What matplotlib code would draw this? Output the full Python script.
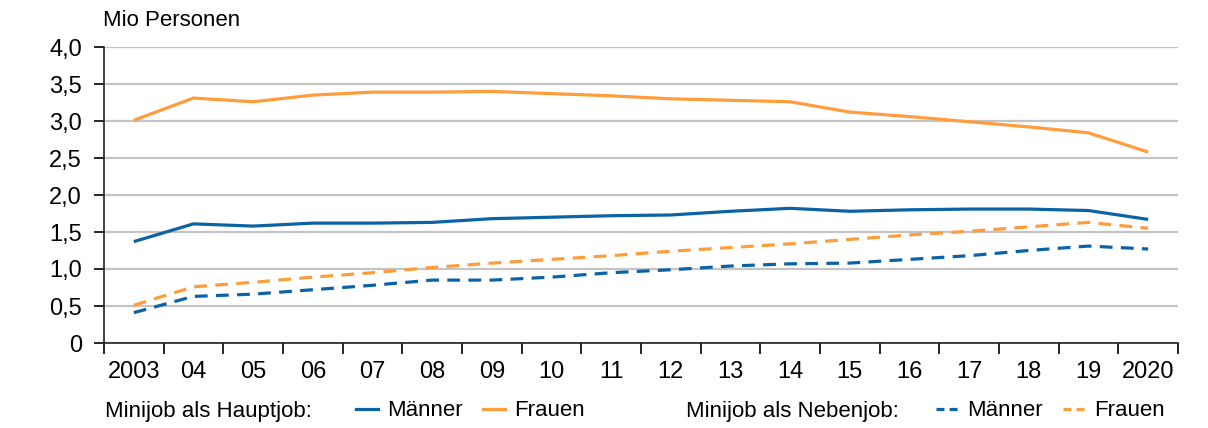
import matplotlib
matplotlib.use("Agg")
import matplotlib.pyplot as plt
from matplotlib.lines import Line2D
import numpy as np

plt.rcParams["font.family"] = ["Liberation Sans", "DejaVu Sans"]

years = ["2003", "04", "05", "06", "07", "08", "09", "10", "11", "12",
         "13", "14", "15", "16", "17", "18", "19", "2020"]

haupt_maenner = [1.37, 1.61, 1.58, 1.62, 1.62, 1.63, 1.68, 1.70, 1.72, 1.73,
                 1.78, 1.82, 1.78, 1.80, 1.81, 1.81, 1.79, 1.67]
haupt_frauen = [3.01, 3.31, 3.26, 3.35, 3.39, 3.39, 3.40, 3.37, 3.34, 3.30,
                3.28, 3.26, 3.12, 3.06, 2.99, 2.92, 2.84, 2.58]
neben_maenner = [0.41, 0.63, 0.66, 0.72, 0.78, 0.85, 0.85, 0.89, 0.95, 0.99,
                 1.04, 1.07, 1.08, 1.13, 1.18, 1.25, 1.31, 1.27]
neben_frauen = [0.51, 0.76, 0.82, 0.89, 0.95, 1.02, 1.08, 1.13, 1.18, 1.24,
                1.29, 1.34, 1.40, 1.46, 1.51, 1.57, 1.63, 1.55]

yticks = [0, 0.5, 1.0, 1.5, 2.0, 2.5, 3.0, 3.5, 4.0]
ylabels = ["0", "0,5", "1,0", "1,5", "2,0", "2,5", "3,0", "3,5", "4,0"]

blue = "#0b63a5"
orange = "#ff9d3c"
dash = (0, (4, 2.6))
fs = 16

fig = plt.figure(figsize=(12.08, 4.28), dpi=100)
ax = fig.add_axes([104 / 1208, 85 / 428, 1074 / 1208, 296 / 428])

x = np.arange(len(years))
lw = 2.3
ax.plot(x, haupt_maenner, color=blue, lw=lw, solid_capstyle="butt")
ax.plot(x, haupt_frauen, color=orange, lw=lw, solid_capstyle="butt")
ax.plot(x, neben_maenner, color=blue, lw=lw, ls=dash, dash_capstyle="butt")
ax.plot(x, neben_frauen, color=orange, lw=lw, ls=dash, dash_capstyle="butt")

ax.set_xlim(-0.5, len(years) - 0.5)
ax.set_ylim(0, 4.0)
ax.set_yticks(yticks)
ax.set_yticklabels(ylabels, fontsize=fs + 1)
ax.set_xticks(x)
ax.set_xticklabels(years, fontsize=fs + 1)
ax.set_xticks(np.arange(-0.5, len(years)), minor=True)
ax.tick_params(axis="x", which="major", length=0, pad=13)
ax.tick_params(axis="x", which="minor", length=8, width=1.2, direction="out")
ax.tick_params(axis="y", length=7, width=1.2, direction="out", pad=9)
ax.grid(axis="y", color="#c4c4c4", lw=1.6)
ax.set_axisbelow(True)
for s in ["top", "right"]:
    ax.spines[s].set_visible(False)
for s in ["left", "bottom"]:
    ax.spines[s].set_linewidth(1.2)
    ax.spines[s].set_color("#222222")
    ax.spines[s].set_zorder(5)

fig.text(103 / 1208, 1 - 20 / 428, "Mio Personen", fontsize=fs, va="center", ha="left")

# Legende
ly = 1 - 411 / 428
fig.text(105 / 1208, ly, "Minijob als Hauptjob:", fontsize=fs, va="center", ha="left")
fig.text(686 / 1208, ly, "Minijob als Nebenjob:", fontsize=fs, va="center", ha="left")

ldash = (0, (2.5, 1.6))
entries = [
    (Line2D([], [], color=blue, lw=lw), "Männer", 356),
    (Line2D([], [], color=orange, lw=lw), "Frauen", 483),
    (Line2D([], [], color=blue, lw=lw, ls=ldash), "Männer", 936),
    (Line2D([], [], color=orange, lw=lw, ls=ldash), "Frauen", 1063),
]
for h, lab, px in entries:
    fig.legend([h], [lab], loc="center left", bbox_to_anchor=(px / 1208, ly),
               frameon=False, fontsize=fs, handlelength=1.0,
               handletextpad=0.4, borderaxespad=0, borderpad=0)

fig.savefig("out.png", dpi=100)
